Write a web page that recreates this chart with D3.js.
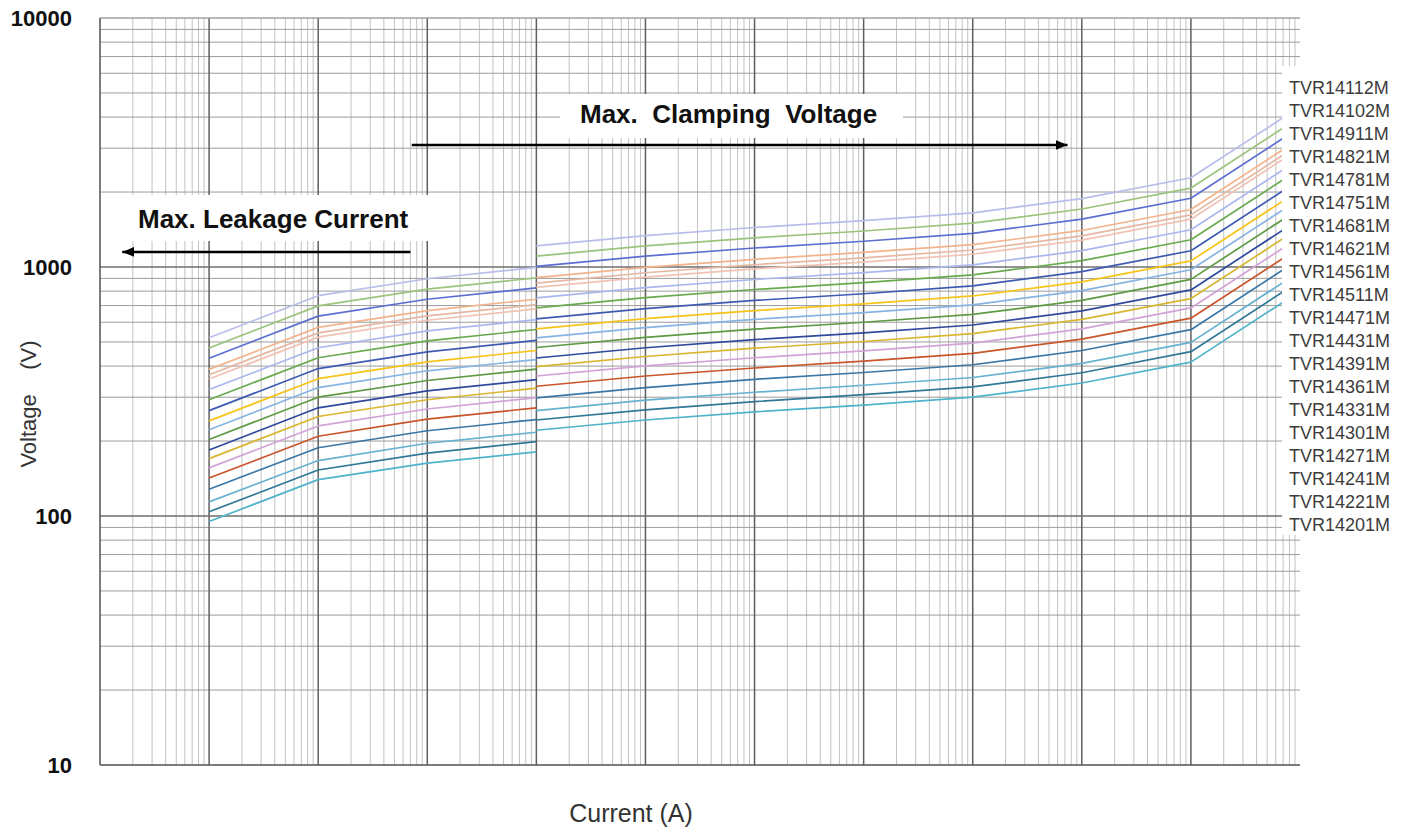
<!DOCTYPE html>
<html>
<head>
<meta charset="utf-8">
<script src="https://d3js.org/d3.v7.min.js"></script>
<style>
body { margin: 0; background: #fff; }
text { font-family: Arial, "Liberation Sans", sans-serif; }
</style>
</head>
<body>
<svg width="1413" height="830"></svg>
<script>
// V-I curves, top of the legend first
var models = ["TVR14112M","TVR14102M","TVR14911M","TVR14821M","TVR14781M","TVR14751M",
  "TVR14681M","TVR14621M","TVR14561M","TVR14511M","TVR14471M","TVR14431M","TVR14391M",
  "TVR14361M","TVR14331M","TVR14301M","TVR14271M","TVR14241M","TVR14221M","TVR14201M"];

var lineColors = ["#b9bde9","#9cc47c","#5b6fd2","#f3b38b","#e6b8a2","#f1c2b4","#a9b7ef",
  "#6aaa4e","#3d5bb3","#f7c41a","#86b3e3","#5f9a44","#2f4a9c","#d9b62f","#d3a2d8",
  "#c9552b","#3b77a6","#66b2d0","#2f7896","#4fb3cb"];

// current (A)
var leakCurrent = [1e-5, 1e-4, 1e-3, 1e-2];
var clampCurrent = [1e-2, 1e-1, 1, 10, 100, 1e3, 1e4, 1e5];

// voltage (V), max. leakage current part
var leakVolts = [
  [520, 767, 897, 996],
  [473, 698, 815, 905],
  [430, 635, 742, 824],
  [388, 572, 668, 742],
  [369, 544, 636, 706],
  [355, 523, 611, 679],
  [322, 474, 554, 615],
  [293, 432, 505, 561],
  [265, 391, 456, 507],
  [241, 356, 416, 462],
  [222, 328, 383, 425],
  [203, 300, 350, 389],
  [184, 272, 318, 353],
  [170, 251, 293, 326],
  [156, 230, 269, 299],
  [142, 209, 245, 272],
  [128, 188, 220, 244],
  [114, 167, 196, 217],
  [104, 153, 179, 199],
  [95, 140, 163, 181]
];

// voltage (V), max. clamping voltage part
var clampVolts = [
  [1216, 1337, 1441, 1535, 1650, 1881, 2283, 4400],
  [1105, 1215, 1310, 1395, 1500, 1710, 2075, 4000],
  [1006, 1106, 1192, 1269, 1365, 1556, 1888, 3640],
  [906, 996, 1074, 1144, 1230, 1402, 1702, 3280],
  [862, 948, 1022, 1088, 1170, 1334, 1619, 3120],
  [829, 911, 983, 1046, 1125, 1283, 1556, 3000],
  [751, 826, 891, 949, 1020, 1163, 1411, 2720],
  [685, 753, 812, 865, 930, 1060, 1287, 2480],
  [619, 680, 734, 781, 840, 958, 1162, 2240],
  [564, 620, 668, 711, 765, 872, 1058, 2040],
  [519, 571, 616, 656, 705, 804, 975, 1880],
  [475, 522, 563, 600, 645, 735, 892, 1720],
  [431, 474, 511, 544, 585, 667, 809, 1560],
  [398, 437, 472, 502, 540, 616, 747, 1440],
  [365, 401, 432, 460, 495, 564, 685, 1320],
  [332, 365, 393, 419, 450, 513, 623, 1200],
  [298, 328, 354, 377, 405, 462, 560, 1080],
  [265, 292, 314, 335, 360, 410, 498, 960],
  [243, 267, 288, 307, 330, 376, 457, 880],
  [221, 243, 262, 279, 300, 342, 415, 800]
];

var yTicks = [10, 100, 1000, 10000];

var svg = d3.select("svg");
var x = d3.scaleLog().domain([1e-6, 1e5]).range([100, 1300]);
var y = d3.scaleLog().domain([10, 10000]).range([765, 18]);

// grid
var vMinor = [], vMajor = [];
for (var e = -6; e <= 4; e++) {
  for (var m = 1; m <= 9; m++) {
    var v = m * Math.pow(10, e);
    if (m == 1) { if (e > -6) vMajor.push(v); } else vMinor.push(v);
  }
}
var hMinor = [], hMajor = [];
for (var e2 = 1; e2 <= 3; e2++) {
  for (var m2 = 1; m2 <= 9; m2++) {
    var h = m2 * Math.pow(10, e2);
    if (m2 == 1) { if (e2 > 1) hMajor.push(h); } else hMinor.push(h);
  }
}
var grid = svg.append("g");
grid.selectAll(".vmin").data(vMinor).enter().append("line")
  .attr("x1", d => x(d)).attr("x2", d => x(d)).attr("y1", y(10000)).attr("y2", y(10))
  .attr("stroke", "#c2c2c2").attr("stroke-width", 1);
grid.selectAll(".hmin").data(hMinor).enter().append("line")
  .attr("x1", x(1e-6)).attr("x2", x(1e5)).attr("y1", d => y(d)).attr("y2", d => y(d))
  .attr("stroke", "#9c9c9c").attr("stroke-width", 1);
grid.selectAll(".vmaj").data(vMajor).enter().append("line")
  .attr("x1", d => x(d)).attr("x2", d => x(d)).attr("y1", y(10000)).attr("y2", y(10))
  .attr("stroke", "#5e5e5e").attr("stroke-width", 1.5);
grid.selectAll(".hmaj").data(hMajor).enter().append("line")
  .attr("x1", x(1e-6)).attr("x2", x(1e5)).attr("y1", d => y(d)).attr("y2", d => y(d))
  .attr("stroke", "#6e6e6e").attr("stroke-width", 1.5);
// frame: top, left, bottom
grid.append("line").attr("x1", x(1e-6)).attr("x2", x(1e5)).attr("y1", y(10000)).attr("y2", y(10000))
  .attr("stroke", "#a0a0a0").attr("stroke-width", 1.5);
grid.append("line").attr("x1", x(1e-6)).attr("x2", x(1e-6)).attr("y1", y(10000)).attr("y2", y(10))
  .attr("stroke", "#505050").attr("stroke-width", 1.5);
grid.append("line").attr("x1", x(1e-6)).attr("x2", x(1e5)).attr("y1", y(10)).attr("y2", y(10))
  .attr("stroke", "#505050").attr("stroke-width", 1.5);

// curves
var line = d3.line().x(d => x(d[0])).y(d => y(d[1]));
var curves = svg.append("g").attr("fill", "none").attr("stroke-width", 1.7)
  .attr("stroke-linejoin", "round");
models.forEach(function(name, i) {
  curves.append("path")
    .attr("d", line(leakCurrent.map((c, j) => [c, leakVolts[i][j]])))
    .attr("stroke", lineColors[i]);
  curves.append("path")
    .attr("d", line(clampCurrent.map((c, j) => [c, clampVolts[i][j]])))
    .attr("stroke", lineColors[i]);
});

// white panels behind the texts
svg.append("rect").attr("x", 108).attr("y", 195).attr("width", 322).attr("height", 46).attr("fill", "#fff");
svg.append("rect").attr("x", 560).attr("y", 94).attr("width", 343).attr("height", 44).attr("fill", "#fff");
svg.append("rect").attr("x", 1282).attr("y", 66).attr("width", 131).attr("height", 469).attr("fill", "#fff");

// y axis labels
svg.append("g").attr("transform", "translate(" + x(1e-6) + ",0)")
  .call(d3.axisLeft(y).tickValues(yTicks).tickSize(0).tickPadding(28).tickFormat(d3.format("d")))
  .call(g => g.select(".domain").remove())
  .selectAll("text")
  .attr("font-family", "Arial, 'Liberation Sans', sans-serif")
  .attr("font-size", 22).attr("font-weight", "bold").attr("fill", "#111");

// legend
svg.append("g").selectAll("text").data(models).enter().append("text")
  .attr("x", 1289).attr("y", (d, i) => 88 + i * 22.95)
  .attr("dy", "0.36em")
  .attr("font-size", 18).attr("fill", "#3c3c3c")
  .text(d => d);

// arrows
var defs = svg.append("defs");
defs.append("marker").attr("id", "arr").attr("viewBox", "0 0 12 10")
  .attr("refX", 12).attr("refY", 5).attr("markerWidth", 12).attr("markerHeight", 10)
  .attr("markerUnits", "userSpaceOnUse").attr("orient", "auto")
  .append("path").attr("d", "M0,0 L12,5 L0,10 Z").attr("fill", "#000");

var clampArrow = [[7.2e-4, 3090], [740, 3090]];
var leakArrow = [[7e-4, 1150], [1.6e-6, 1150]];
[clampArrow, leakArrow].forEach(function(a) {
  svg.append("line")
    .attr("x1", x(a[0][0])).attr("y1", y(a[0][1]))
    .attr("x2", x(a[1][0])).attr("y2", y(a[1][1]))
    .attr("stroke", "#000").attr("stroke-width", 2.5)
    .attr("marker-end", "url(#arr)");
});

svg.append("text").attr("x", 138).attr("y", 228)
  .attr("font-size", 26).attr("font-weight", "bold").attr("fill", "#111")
  .text("Max. Leakage Current");
svg.append("text").attr("x", 580).attr("y", 123)
  .attr("font-size", 26).attr("font-weight", "bold").attr("fill", "#111")
  .style("white-space", "pre")
  .text("Max.  Clamping  Voltage");

// axis titles
svg.append("text").attr("x", 631).attr("y", 822)
  .attr("text-anchor", "middle").attr("font-size", 25).attr("fill", "#333")
  .text("Current (A)");
svg.append("text").attr("transform", "translate(36,404) rotate(-90)")
  .attr("text-anchor", "middle").attr("font-size", 22).attr("fill", "#333")
  .style("white-space", "pre")
  .text("Voltage    (V)");
</script>
</body>
</html>
